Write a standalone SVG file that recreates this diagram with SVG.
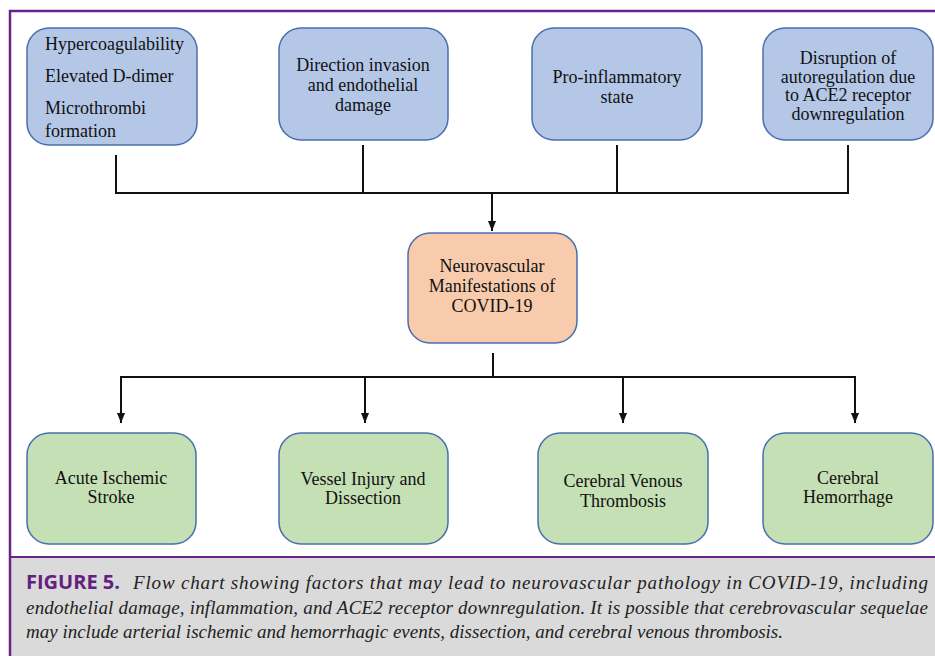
<svg xmlns="http://www.w3.org/2000/svg" width="935" height="656" viewBox="0 0 935 656">
<style>
.bx{stroke:#4a6fae;stroke-width:1.5}
.blue{fill:#b4c7e7}
.orange{fill:#f8cbad}
.green{fill:#c5e0b4}
.t{font-family:'Liberation Serif','Times New Roman','Noto Serif','DejaVu Serif',serif;font-size:18px;fill:#111}
.c{text-anchor:middle}
.ln{stroke:#111;stroke-width:2;fill:none}
.cap{font-family:'Liberation Serif','Times New Roman','Noto Serif','DejaVu Serif',serif;font-style:italic;font-size:19px;fill:#222}
.fig{font-family:'Open Sans','Liberation Sans',sans-serif;font-weight:bold;font-size:20px;fill:#62207f}
</style>
<defs>
<marker id="ah" markerWidth="10" markerHeight="8" refX="10" refY="4" orient="auto" markerUnits="userSpaceOnUse" viewBox="0 0 10 8">
<path d="M0,0 L10,4 L0,8 Z" fill="#111"/>
</marker>
</defs>
<rect width="935" height="656" fill="#ffffff"/>
<rect x="10" y="557" width="925" height="99" fill="#dadada"/>
<path d="M935,11 L10,11 L10,656" fill="none" stroke="#6a2488" stroke-width="2.5"/>
<line x1="10" y1="557" x2="935" y2="557" stroke="#6a2488" stroke-width="2"/>

<g id="connectors">
<path class="ln" d="M116,155 V193 M363,145 V193 M617,145 V193 M848,145 V193 M115,193 H849"/>
<line class="ln" x1="492" y1="193" x2="492" y2="231" marker-end="url(#ah)"/>
<line class="ln" x1="493" y1="353" x2="493" y2="377"/>
<path class="ln" d="M120,377 H856"/>
<line class="ln" x1="121" y1="376" x2="121" y2="423" marker-end="url(#ah)"/>
<line class="ln" x1="365" y1="376" x2="365" y2="423" marker-end="url(#ah)"/>
<line class="ln" x1="623" y1="376" x2="623" y2="423" marker-end="url(#ah)"/>
<line class="ln" x1="855" y1="376" x2="855" y2="423" marker-end="url(#ah)"/>
</g>

<g id="n1">
<rect class="bx blue" x="27" y="28" width="170" height="117" rx="22"/>
<text class="t" x="45" y="50">Hypercoagulability</text>
<text class="t" x="45" y="82">Elevated D-dimer</text>
<text class="t" x="45" y="114">Microthrombi</text>
<text class="t" x="45" y="137">formation</text>
</g>
<g id="n2">
<rect class="bx blue" x="279" y="28" width="169" height="112" rx="22"/>
<text class="t c" x="363" y="71">Direction invasion</text>
<text class="t c" x="363" y="91">and endothelial</text>
<text class="t c" x="363" y="111">damage</text>
</g>
<g id="n3">
<rect class="bx blue" x="532" y="28" width="170" height="112" rx="22"/>
<text class="t c" x="617" y="83">Pro-inflammatory</text>
<text class="t c" x="617" y="103">state</text>
</g>
<g id="n4">
<rect class="bx blue" x="763" y="28" width="170" height="112" rx="22"/>
<text class="t c" x="848" y="64">Disruption of</text>
<text class="t c" x="848" y="82.5">autoregulation due</text>
<text class="t c" x="848" y="101">to ACE2 receptor</text>
<text class="t c" x="848" y="119.5">downregulation</text>
</g>
<g id="center">
<rect class="bx orange" x="408" y="233" width="169" height="110" rx="22"/>
<text class="t c" x="492" y="272">Neurovascular</text>
<text class="t c" x="492" y="292">Manifestations of</text>
<text class="t c" x="492" y="312">COVID-19</text>
</g>
<g id="o1">
<rect class="bx green" x="27" y="433" width="169" height="111" rx="22"/>
<text class="t c" x="111" y="484">Acute Ischemic</text>
<text class="t c" x="111" y="503">Stroke</text>
</g>
<g id="o2">
<rect class="bx green" x="279" y="433" width="169" height="111" rx="22"/>
<text class="t c" x="363" y="485">Vessel Injury and</text>
<text class="t c" x="363" y="504">Dissection</text>
</g>
<g id="o3">
<rect class="bx green" x="538" y="433" width="170" height="111" rx="22"/>
<text class="t c" x="623" y="487">Cerebral Venous</text>
<text class="t c" x="623" y="507">Thrombosis</text>
</g>
<g id="o4">
<rect class="bx green" x="763" y="433" width="170" height="111" rx="22"/>
<text class="t c" x="848" y="484">Cerebral</text>
<text class="t c" x="848" y="503">Hemorrhage</text>
</g>

<g id="caption">
<text class="fig" x="26" y="589">FIGURE 5.</text>
<text class="cap" x="133" y="589" textLength="795" lengthAdjust="spacing">Flow chart showing factors that may lead to neurovascular pathology in COVID-19, including</text>
<text class="cap" x="26" y="614" textLength="902" lengthAdjust="spacing">endothelial damage, inflammation, and ACE2 receptor downregulation. It is possible that cerebrovascular sequelae</text>
<text class="cap" x="26" y="638" textLength="757" lengthAdjust="spacing">may include arterial ischemic and hemorrhagic events, dissection, and cerebral venous thrombosis.</text>
</g>
</svg>
